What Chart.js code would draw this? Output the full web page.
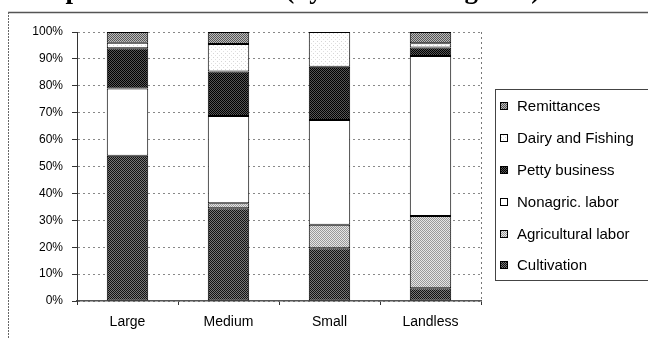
<!DOCTYPE html>
<html><head><meta charset="utf-8">
<script src="https://cdn.jsdelivr.net/npm/chart.js@4/dist/chart.umd.min.js"></script>
<style>
html,body{margin:0;padding:0;background:#fff;overflow:hidden;width:648px;height:339px;}
#wrap{position:relative;width:648px;height:339px;overflow:hidden;}
#title{position:absolute;left:10px;top:-24px;font:bold 27px "Liberation Serif","Times New Roman",serif;line-height:27px;white-space:nowrap;color:#000;z-index:2;}
canvas{position:absolute;left:0;top:0;}
</style></head><body>
<div id="wrap"><div id="title">Composition of Income (by Landholding Size)</div><canvas id="c" width="648" height="339"></canvas></div>
<script>
const categories = ['Large', 'Medium', 'Small', 'Landless'];
const cultivation = [54, 34.5, 19.6, 4.7];
const agriculturalLabor = [0, 1.8, 8.7, 26.9];
const nonagricLabor = [25, 32.5, 39, 59.5];
const pettyBusiness = [15, 16.5, 19.8, 3.1];
const dairyFishing = [2, 10.2, 12.9, 1.6];
const remittances = [4, 4.5, 0, 4.2];
const yTickValues = [0, 10, 20, 30, 40, 50, 60, 70, 80, 90, 100];
const seriesNames = ['Cultivation', 'Agricultural labor', 'Nonagric. labor', 'Petty business', 'Dairy and Fishing', 'Remittances'];

function makePattern(rows) {
  const n = rows.length, m = rows[0].length;
  const cv = document.createElement('canvas');
  cv.width = m; cv.height = n;
  const cx = cv.getContext('2d');
  for (let y = 0; y < n; y++) for (let x = 0; x < m; x++) {
    cx.fillStyle = rows[y][x]; cx.fillRect(x, y, 1, 1);
  }
  return cx.createPattern(cv, 'repeat');
}
const ctx = document.getElementById('c').getContext('2d');
const W = '#ffffff';
const fills = [
  makePattern([['#111', '#777'], ['#777', '#111']]),
  makePattern([['#999', '#e6e6e6'], ['#e6e6e6', '#999']]),
  '#ffffff',
  makePattern([['#000', '#555'], ['#555', '#000']]),
  makePattern([[W, W, W, W], [W, '#d6d6d6', W, W], [W, W, W, W], [W, W, W, '#e0e0e0']]),
  makePattern([['#555', '#bbb'], ['#bbb', '#555']])
];
const seriesData = [cultivation, agriculturalLabor, nonagricLabor, pettyBusiness, dairyFishing, remittances];

const framePlugin = {
  id: 'frame',
  beforeDraw(chart) {
    const c = chart.ctx;
    c.save();
    c.fillStyle = '#fff';
    c.fillRect(0, 0, chart.width, chart.height);
    c.restore();
  },
  afterDraw(chart) {
    const c = chart.ctx, a = chart.chartArea;
    c.save();
    // outer frame
    c.strokeStyle = '#555'; c.lineWidth = 1.5;
    c.beginPath(); c.moveTo(8, 12.5); c.lineTo(648, 12.5); c.stroke();
    c.lineWidth = 1; c.strokeStyle = '#666'; c.setLineDash([2, 1]);
    c.beginPath(); c.moveTo(8.5, 12); c.lineTo(8.5, 339); c.stroke();
    // plot right border
    c.setLineDash([2, 3]); c.strokeStyle = '#777';
    c.beginPath(); c.moveTo(Math.round(a.right) + 0.5, a.top); c.lineTo(Math.round(a.right) + 0.5, a.bottom); c.stroke();
    c.setLineDash([]);
    // legend
    c.strokeStyle = '#444'; c.lineWidth = 1;
    c.strokeRect(495.5, 89.5, 160, 191);
    const ys = [106, 138, 170, 202, 234, 265];
    c.font = '15px "Liberation Sans", Arial, sans-serif';
    c.textBaseline = 'middle'; c.fillStyle = '#000';
    for (let i = 0; i < 6; i++) {
      const di = 5 - i;
      const y = ys[i];
      c.fillStyle = fills[di];
      c.fillRect(500, y - 4, 8, 8);
      c.strokeStyle = '#000';
      c.strokeRect(500.5, y - 3.5, 7, 7);
      c.fillStyle = '#000';
      c.fillText(chart.data.datasets[di].label, 517, y + 1);
    }
    c.restore();
  }
};

new Chart(ctx, {
  type: 'bar',
  data: {
    labels: categories,
    datasets: seriesData.map((d, i) => ({
      label: seriesNames[i],
      data: d,
      backgroundColor: fills[i],
      borderColor: '#000',
      borderWidth: 1,
      borderSkipped: false,
      categoryPercentage: 1,
      barPercentage: 0.41
    }))
  },
  options: {
    responsive: false,
    devicePixelRatio: 1,
    animation: false,
    layout: { padding: { left: 0, top: 32, right: 167, bottom: 0 } },
    plugins: { legend: { display: false }, tooltip: { enabled: false }, title: { display: false } },
    scales: {
      x: {
        stacked: true,
        grid: { display: true, drawOnChartArea: false, drawTicks: true, tickLength: 4, color: '#333', offset: true },
        border: { display: true, color: '#555', width: 1.5 },
        ticks: { color: '#000', font: { family: '"Liberation Sans", Arial, sans-serif', size: 14 }, padding: 9, maxRotation: 0 },
        afterFit(s) { s.height = 38; }
      },
      y: {
        stacked: true,
        min: 0, max: 100,
        afterBuildTicks(s) { s.ticks = yTickValues.map(v => ({ value: v })); },
        grid: { color: '#888', tickColor: '#333', tickLength: 5, drawTicks: true },
        border: { display: true, color: '#333', width: 1, dash: [2, 3] },
        ticks: { color: '#000', font: { family: '"Liberation Sans", Arial, sans-serif', size: 12 }, padding: 9, callback: v => v + '%' },
        afterFit(s) { s.width = 77; }
      }
    }
  },
  plugins: [framePlugin]
});
</script>
</body></html>
